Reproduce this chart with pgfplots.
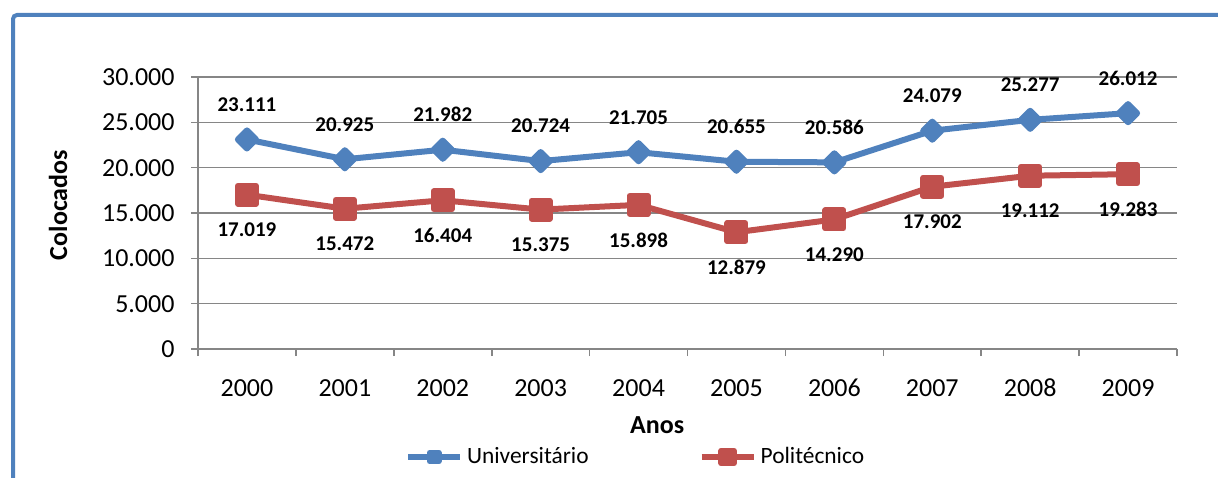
\documentclass[border=0pt]{standalone}
\usepackage{fontspec}
\setmainfont{Carlito}
\usepackage{pgfplots}
\pgfplotsset{compat=1.18}
\definecolor{uni}{HTML}{4F81BD}
\definecolor{poli}{HTML}{C0504D}
\definecolor{gridc}{HTML}{868686}
\definecolor{frameblue}{HTML}{4F81BD}

\begin{document}
\begin{tikzpicture}
\useasboundingbox (0,0) rectangle (609pt,238.5pt);
% chart frame (only left and top edges fall inside the picture)
\draw[frameblue, line width=2pt, rounded corners=2pt] (6.5pt,-5pt) -- (6.5pt,231pt) -- (620pt,231pt);
\begin{axis}[
  at={(99pt,64pt)}, anchor=south west,
  scale only axis, width=489.5pt, height=136pt,
  xmin=-0.5, xmax=9.5, ymin=0, ymax=30000,
  axis lines*=left, axis line style={gridc, line width=0.8pt, -},
  ymajorgrids, major grid style={gridc, line width=0.8pt},
  tick align=outside, major tick length=3.5pt,
  tick style={gridc, line width=0.8pt},
  xtick={-0.5,0.5,1.5,2.5,3.5,4.5,5.5,6.5,7.5,8.5,9.5},
  x tick label as interval,
  xticklabels={2000,2001,2002,2003,2004,2005,2006,2007,2008,2009},
  ytick={0,5000,10000,15000,20000,25000,30000},
  scaled y ticks=false,
  /pgf/number format/.cd, fixed, precision=0, 1000 sep={.}, assume math mode=true, /pgfplots/.cd,
  ticklabel style={font=\fontsize{13}{15}\selectfont, text=black},
  xticklabel style={yshift=-8.6pt, text height=8.2pt, text depth=0pt},
  yticklabel style={xshift=-4.7pt},
  xlabel={Anos}, ylabel={Colocados},
  label style={font=\bfseries\fontsize{13}{15}\selectfont},
  xlabel style={at={(axis description cs:0.469,-0.279)}, anchor=center},
  ylabel style={at={(axis description cs:-0.143,0.529)}, anchor=center, rotate=0},
  legend style={at={(axis description cs:0.448,-0.397)}, anchor=center,
    draw=none, fill=none, legend columns=2,
    font=\fontsize{11.7}{14}\selectfont,
    nodes={inner xsep=2pt},
    /tikz/every even column/.append style={column sep=53pt}},
  legend image code/.code={\draw[mark repeat=2, mark phase=2, mark options={scale=0.7}] plot coordinates {(0pt,0pt)(13pt,0pt)(26pt,0pt)};},
  every axis plot/.append style={line width=3pt, line join=round},
  nodes near coords,
]
\addplot[uni, mark=square*, mark size=3.2pt, mark options={rotate=45, solid},
  every node near coord/.append style={text=black, anchor=center, yshift=17.5pt,
    font=\bfseries\fontsize{10.5}{12}\selectfont}]
  coordinates {(0,23111) (1,20925) (2,21982) (3,20724) (4,21705) (5,20655) (6,20586) (7,24079) (8,25277) (9,26012)};
\addlegendentry{Universitário}
\addplot[poli, mark=square*, mark size=4.5pt, mark options={solid},
  every node near coord/.append style={text=black, anchor=center, yshift=-17.5pt,
    font=\bfseries\fontsize{10.5}{12}\selectfont}]
  coordinates {(0,17019) (1,15472) (2,16404) (3,15375) (4,15898) (5,12879) (6,14290) (7,17902) (8,19112) (9,19283)};
\addlegendentry{Politécnico}
\end{axis}
\end{tikzpicture}
\end{document}
